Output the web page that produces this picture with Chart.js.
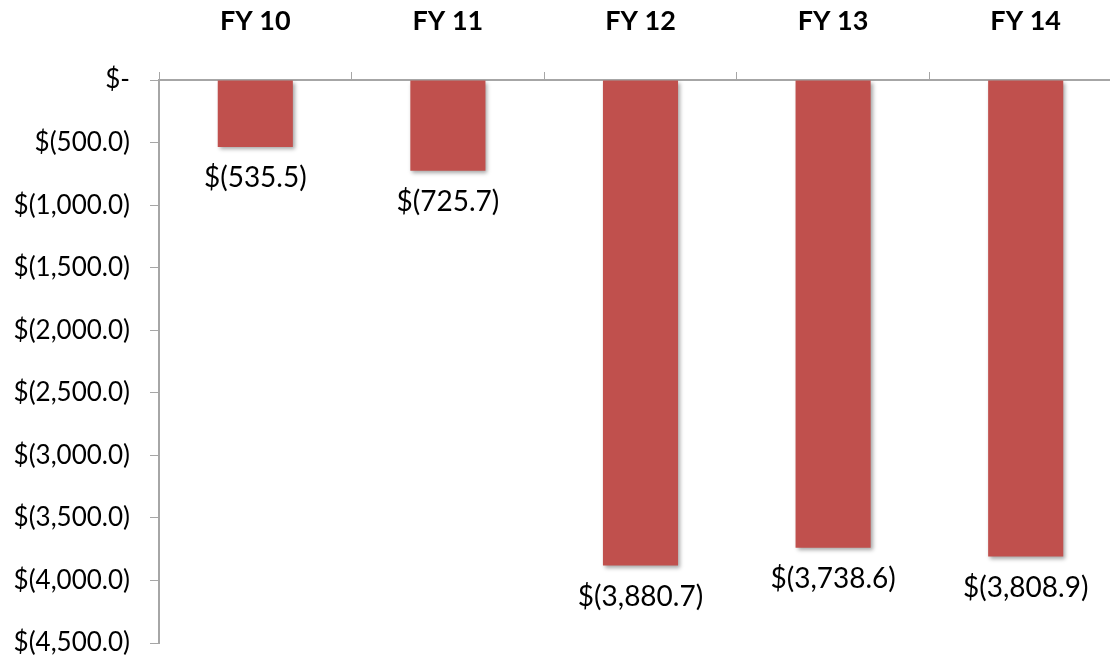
<!DOCTYPE html>
<html>
<head>
<meta charset="utf-8">
<script src="https://cdn.jsdelivr.net/npm/chart.js@4"></script>
<style>
  html, body { margin: 0; padding: 0; background: #fff; overflow: hidden; }
  canvas { display: block; }
</style>
</head>
<body>
<canvas id="deficit" width="1122" height="658"></canvas>
<script>
// categories and values
var years = ["FY 10", "FY 11", "FY 12", "FY 13", "FY 14"];
var netValues = [-535.5, -725.7, -3880.7, -3738.6, -3808.9];
var yTicks = [0, -500, -1000, -1500, -2000, -2500, -3000, -3500, -4000, -4500];

var FONT = "Lato, 'Open Sans', sans-serif";

function money(v) {
	if (v === 0) return "$-";
	var s = Math.abs(v).toLocaleString('en-US', { minimumFractionDigits: 1, maximumFractionDigits: 1 });
	return v < 0 ? "$(" + s + ")" : "$" + s;
}

// soft shadow under the bars, like the office chart
var barShadow = {
	id: 'barShadow',
	beforeDatasetDraw: function(chart) {
		var c = chart.ctx;
		c.save();
		c.shadowColor = "rgba(0,0,0,0.35)";
		c.shadowBlur = 4;
		c.shadowOffsetX = 2;
		c.shadowOffsetY = 2;
	},
	afterDatasetDraw: function(chart) {
		chart.ctx.restore();
	}
};

// value labels under each bar
var valueLabels = {
	id: 'valueLabels',
	afterDatasetsDraw: function(chart) {
		var c = chart.ctx;
		var meta = chart.getDatasetMeta(0);
		c.save();
		c.font = "28px " + FONT;
		c.fillStyle = "#000";
		c.textAlign = "center";
		c.textBaseline = "top";
		meta.data.forEach(function(bar, i) {
			c.fillText(money(netValues[i]), bar.x, bar.y + 17);
		});
		c.restore();
	}
};

var ctx = document.getElementById("deficit");
new Chart(ctx, {
	type: 'bar',
	data: {
		labels: years,
		datasets: [{
			data: netValues,
			backgroundColor: "#C0504D",
			borderWidth: 0,
			barPercentage: 0.39,
			categoryPercentage: 1.0
		}]
	},
	plugins: [barShadow, valueLabels],
	options: {
		responsive: false,
		animation: false,
		layout: {
			padding: { left: 0, right: 0, top: 0, bottom: 0 }
		},
		plugins: {
			legend: { display: false },
			tooltip: { enabled: false }
		},
		scales: {
			x: {
				position: 'top',
				offset: true,
				afterFit: function(scale) {
					scale.height = 80;
				},
				grid: {
					offset: true,
					drawOnChartArea: false,
					drawTicks: true,
					tickLength: 8,
					color: "#a6a6a6"
				},
				border: { color: "#a6a6a6", width: 2 },
				ticks: {
					color: "#000",
					padding: 35,
					font: { family: FONT, size: 27, weight: 'bold' }
				}
			},
			y: {
				min: -4500,
				max: 0,
				afterBuildTicks: function(scale) {
					scale.ticks = yTicks.map(function(v) { return { value: v }; });
				},
				afterFit: function(scale) {
					scale.width = 159;
					scale.paddingTop = 0;
					scale.paddingBottom = 15;
				},
				grid: {
					drawOnChartArea: false,
					drawTicks: true,
					tickLength: 9,
					color: "#a6a6a6"
				},
				border: { color: "#a6a6a6", width: 2 },
				ticks: {
					color: "#000",
					padding: 20,
					font: { family: FONT, size: 26 },
					callback: function(v) { return money(v); }
				}
			}
		}
	}
});
</script>
</body>
</html>
